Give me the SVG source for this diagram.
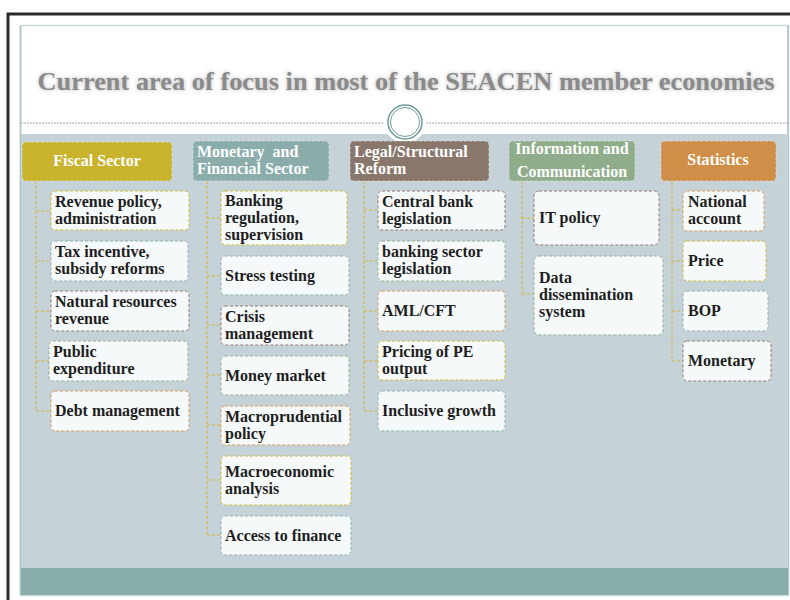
<svg xmlns="http://www.w3.org/2000/svg" width="790" height="600" viewBox="0 0 790 600">
<defs>
<style>
.hd{font-family:"Liberation Serif","Times New Roman",serif;font-weight:bold;font-size:16px;fill:#ffffff}
.tx{font-family:"Liberation Serif","Times New Roman",serif;font-weight:bold;font-size:16px;fill:#1e1e1e}
.box{fill:#f6f9fa;stroke-width:1;stroke-dasharray:3 2}
.b1{stroke:#d2b838}.b2{stroke:#8fb1b0}.b3{stroke:#8e7b70}.b4{stroke:#93b18f}.b5{stroke:#d69a5c}
.con{fill:none;stroke:#d4b537;stroke-width:1;stroke-dasharray:3 2}
.hbox{stroke:#e8eeee;stroke-opacity:0.6;stroke-width:1;stroke-dasharray:3 2}
</style>
<filter id="blur" x="-5%" y="-50%" width="110%" height="200%"><feGaussianBlur stdDeviation="2"/></filter>
</defs>
<rect width="790" height="600" fill="#ffffff"/>
<!-- outer frame -->
<path d="M8,600 V14 H790" fill="none" stroke="#2a2a2a" stroke-width="3"/>
<!-- slide -->
<rect x="20.5" y="25.5" width="768" height="570" fill="#ffffff" stroke="#c9d6d6" stroke-width="1.5"/>
<line x1="20.5" y1="26" x2="20.5" y2="595" stroke="#a9c4c3" stroke-width="1.5"/>
<line x1="788" y1="26" x2="788" y2="595" stroke="#a9c4c3" stroke-width="1.5"/>
<rect x="21" y="134" width="767" height="434" fill="#c5d2d7"/>
<rect x="21" y="568" width="767" height="27" fill="#88adab"/>
<line x1="21" y1="123" x2="788" y2="123" stroke="#9aa8a8" stroke-width="1" stroke-dasharray="2 1"/>
<!-- title -->
<g id="title">
<text x="406" y="90" text-anchor="middle" font-family="Liberation Serif,serif" font-weight="bold" font-size="24.5" fill="#b5b5b5" filter="url(#blur)" textLength="737" lengthAdjust="spacingAndGlyphs">Current area of focus in most of the SEACEN member economies</text>
<text x="406" y="90" text-anchor="middle" font-family="Liberation Serif,serif" font-weight="bold" font-size="24.5" fill="#8a8a8a" textLength="737" lengthAdjust="spacingAndGlyphs">Current area of focus in most of the SEACEN member economies</text>
</g>
<!-- circle ornament -->
<g id="ornament">
<circle cx="405" cy="122" r="21" fill="#ffffff"/>
<circle cx="405" cy="122" r="17" fill="#ffffff" stroke="#6e9c9a" stroke-width="1.5"/>
<circle cx="405" cy="122" r="14.5" fill="none" stroke="#6e9c9a" stroke-width="1"/>
</g>
<!-- connectors -->
<g id="connectors">
<path class="con" d="M36,181 V411 M36,211 H51 M36,261 H51 M36,311 H51 M36,361 H49 M36,411 H51"/>
<path class="con" d="M207,181 V535 M207,218 H221 M207,276 H221 M207,325 H221 M207,375 H221 M207,425 H221 M207,480 H221 M207,535 H221"/>
<path class="con" d="M364,181 V411 M364,210 H378 M364,261 H378 M364,311 H378 M364,361 H378 M364,411 H378"/>
<path class="con" d="M522,181 V294 M522,218 H534 M522,294 H534"/>
<path class="con" d="M672,181 V361 M672,210 H683 M672,261 H683 M672,311 H683 M672,361 H683"/>
</g>
<!-- headers -->
<g id="h-fiscal"><rect class="hbox" x="22" y="142" width="150" height="39" rx="4" fill="#c9b22c"/><text class="hd" x="97" y="166" text-anchor="middle">Fiscal Sector</text></g>
<g id="h-monetary"><rect class="hbox" x="193" y="141" width="136" height="40" rx="4" fill="#8aadab"/><text class="hd" x="197" y="157" xml:space="preserve">Monetary  and</text><text class="hd" x="197" y="174">Financial Sector</text></g>
<g id="h-legal"><rect class="hbox" x="350" y="141" width="139" height="40" rx="4" fill="#8a776c"/><text class="hd" x="354" y="157">Legal/Structural</text><text class="hd" x="354" y="174">Reform</text></g>
<g id="h-info"><rect class="hbox" x="509" y="141" width="126" height="40" rx="4" fill="#8fad8a"/><text class="hd" x="572" y="154" text-anchor="middle">Information and</text><text class="hd" x="572" y="177" text-anchor="middle">Communication</text></g>
<g id="h-stats"><rect class="hbox" x="661" y="141" width="115" height="40" rx="4" fill="#d08f48"/><text class="hd" x="718" y="165" text-anchor="middle">Statistics</text></g>
<!-- Fiscal children -->
<g id="f1"><rect class="box b1" x="51" y="191" width="138" height="39" rx="4"/><text class="tx" x="55" y="207">Revenue policy,</text><text class="tx" x="55" y="224">administration</text></g>
<g id="f2"><rect class="box b2" x="51" y="241" width="137" height="40" rx="4"/><text class="tx" x="55" y="257">Tax incentive,</text><text class="tx" x="55" y="274">subsidy reforms</text></g>
<g id="f3"><rect class="box b3" x="51" y="291" width="138" height="40" rx="4"/><text class="tx" x="55" y="307">Natural resources</text><text class="tx" x="55" y="324">revenue</text></g>
<g id="f4"><rect class="box b4" x="49" y="341" width="139" height="40" rx="4"/><text class="tx" x="53" y="357">Public</text><text class="tx" x="53" y="374">expenditure</text></g>
<g id="f5"><rect class="box b5" x="51" y="391" width="138" height="40" rx="4"/><text class="tx" x="55" y="416">Debt management</text></g>
<!-- Monetary children -->
<g id="m1"><rect class="box b1" x="221" y="191" width="126" height="54" rx="4"/><text class="tx" x="225" y="206">Banking</text><text class="tx" x="225" y="223">regulation,</text><text class="tx" x="225" y="240">supervision</text></g>
<g id="m2"><rect class="box b2" x="221" y="256" width="128" height="39" rx="4"/><text class="tx" x="225" y="281">Stress testing</text></g>
<g id="m3"><rect class="box b3" x="221" y="306" width="128" height="39" rx="4"/><text class="tx" x="225" y="322">Crisis</text><text class="tx" x="225" y="339">management</text></g>
<g id="m4"><rect class="box b4" x="221" y="356" width="128" height="39" rx="4"/><text class="tx" x="225" y="381">Money market</text></g>
<g id="m5"><rect class="box b5" x="221" y="406" width="129" height="39" rx="4"/><text class="tx" x="225" y="422">Macroprudential</text><text class="tx" x="225" y="439">policy</text></g>
<g id="m6"><rect class="box b1" x="221" y="456" width="130" height="49" rx="4"/><text class="tx" x="225" y="477">Macroeconomic</text><text class="tx" x="225" y="494">analysis</text></g>
<g id="m7"><rect class="box b2" x="221" y="516" width="130" height="39" rx="4"/><text class="tx" x="225" y="541">Access to finance</text></g>
<!-- Legal children -->
<g id="l1"><rect class="box b3" x="378" y="191" width="127" height="39" rx="4"/><text class="tx" x="382" y="207">Central bank</text><text class="tx" x="382" y="224">legislation</text></g>
<g id="l2"><rect class="box b4" x="378" y="241" width="127" height="40" rx="4"/><text class="tx" x="382" y="257">banking sector</text><text class="tx" x="382" y="274">legislation</text></g>
<g id="l3"><rect class="box b5" x="378" y="291" width="127" height="40" rx="4"/><text class="tx" x="382" y="316">AML/CFT</text></g>
<g id="l4"><rect class="box b1" x="378" y="341" width="127" height="39" rx="4"/><text class="tx" x="382" y="357">Pricing of PE</text><text class="tx" x="382" y="374">output</text></g>
<g id="l5"><rect class="box b2" x="378" y="391" width="127" height="40" rx="4"/><text class="tx" x="382" y="416">Inclusive growth</text></g>
<!-- Info children -->
<g id="i1"><rect class="box b3" x="534" y="191" width="125" height="54" rx="5"/><text class="tx" x="539" y="223">IT policy</text></g>
<g id="i2"><rect class="box b4" x="534" y="256" width="129" height="79" rx="5"/><text class="tx" x="539" y="283">Data</text><text class="tx" x="539" y="300">dissemination</text><text class="tx" x="539" y="317">system</text></g>
<!-- Stats children -->
<g id="s1"><rect class="box b5" x="683" y="191" width="81" height="40" rx="4"/><text class="tx" x="688" y="207">National</text><text class="tx" x="688" y="224">account</text></g>
<g id="s2"><rect class="box b1" x="683" y="241" width="83" height="40" rx="4"/><text class="tx" x="688" y="266">Price</text></g>
<g id="s3"><rect class="box b2" x="683" y="291" width="85" height="40" rx="4"/><text class="tx" x="688" y="316">BOP</text></g>
<g id="s4"><rect class="box b3" x="683" y="341" width="88" height="40" rx="4"/><text class="tx" x="688" y="366">Monetary</text></g>
</svg>
